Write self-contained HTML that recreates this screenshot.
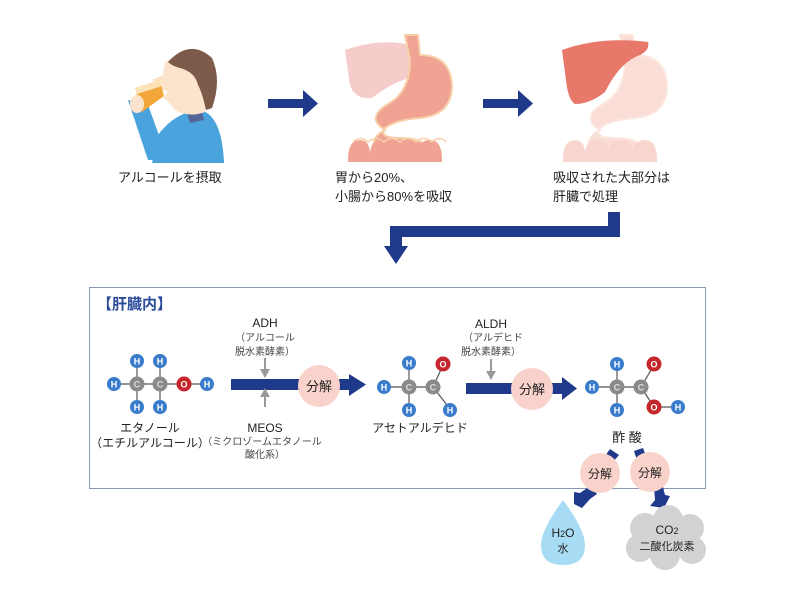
<!DOCTYPE html>
<html><head><meta charset="utf-8"><style>
html,body{margin:0;padding:0;background:#fff;}
svg{display:block;}
text{font-family:"Liberation Sans","Noto Sans CJK JP",sans-serif;fill:#222;}
</style></head><body>
<svg width="800" height="600" viewBox="0 0 800 600" xmlns="http://www.w3.org/2000/svg">
<defs>
<g id="H"><circle r="7" fill="#3a7ccc"/><text y="3.5" text-anchor="middle" font-size="9" font-weight="bold" style="fill:#fff">H</text></g>
<g id="C"><circle r="7.5" fill="#8a8a8a"/><text y="3.5" text-anchor="middle" font-size="9" font-weight="bold" style="fill:#ddd">C</text></g>
<g id="O"><circle r="7.5" fill="#c4262c"/><text y="3.5" text-anchor="middle" font-size="9" font-weight="bold" style="fill:#fff">O</text></g>
<g id="coils">
<path d="M0 60 Q0 40 12 40 Q22 40 22 55 Q22 40 34 40 Q46 40 46 55 Q46 40 58 40 Q70 40 70 55 Q70 40 82 40 Q94 40 94 60 L94 62 H0 Z" fill="currentColor"/>
</g>
</defs>

<!-- person -->
<g>
<path d="M158 135 Q175 112 200 110 Q222 115 224 163 L152 163 Z" fill="#4aa3dc"/>
<path d="M128 100 L148 160 L168 160 L148 105 Z" fill="#4aa3dc"/>
<path d="M186 110 L201 106 L204 120 L190 123 Z" fill="#56689a"/>
<path d="M165 62 Q185 50 205 65 Q212 90 205 112 Q190 118 175 110 Q168 100 163 98 L168 92 L160 88 L152 80 L163 75 Z" fill="#fbe3cc"/>
<path d="M168 62 Q190 38 212 58 Q222 80 212 108 L206 110 Q202 92 198 85 Q195 72 180 68 Q172 66 168 62 Z" fill="#7d5a4a"/>
<path d="M135 88 L160 80 L164 96 L142 112 Z" fill="#f3a63a"/>
<path d="M135 88 L160 80 L162 86 L137 94 Z" fill="#fff3d8" opacity="0.8"/>
<ellipse cx="137" cy="104" rx="7" ry="9" fill="#fbe3cc"/>
</g>

<!-- arrows top -->
<path d="M268 99 H303 V90 L318 103.5 L303 117 V108 H268 Z" fill="#1f3a8a"/>
<path d="M483 99 H518 V90 L533 103.5 L518 117 V108 H483 Z" fill="#1f3a8a"/>

<!-- organs 1 -->
<g>
<path d="M345 50 Q380 38 410 45 L420 75 Q395 80 372 98 Q355 100 350 85 Z" fill="#f6cccb"/>
<path d="M405 35 H418 L420 55 Q450 55 452 85 Q452 115 420 118 Q395 120 385 128 Q378 138 400 138 Q425 138 428 150 Q430 160 420 160 L380 160 Q365 140 385 130 Q365 118 388 104 Q410 92 410 60 Z" fill="#f0a293" stroke="#f8d0a8" stroke-width="2"/>
<g color="#f0a293" transform="translate(348,100)"><use href="#coils"/></g>
<path d="M353 142 Q360 135 368 142 Q376 135 384 142 Q392 135 400 142 Q408 135 416 142 Q424 135 432 142 Q440 135 446 142" fill="none" stroke="#f8d0a8" stroke-width="1.5"/>
</g>
<!-- organs 2 -->
<g>
<path d="M620 35 H633 L635 55 Q665 55 667 85 Q667 115 635 118 Q610 120 600 128 Q593 138 615 138 Q640 138 643 150 Q645 160 635 160 L595 160 Q580 140 600 130 Q580 118 603 104 Q625 92 625 60 Z" fill="#f9ddd6" stroke="#fbe7dd" stroke-width="2"/>
<g color="#f8d5cf" transform="translate(563,100)"><use href="#coils"/></g>
<path d="M562 50 Q600 36 648 42 Q650 50 640 55 Q620 62 605 92 Q590 104 575 104 Q568 100 566 80 Z" fill="#e8796a"/>
</g>

<!-- top labels -->
<g font-size="13">
<text x="118" y="182">アルコールを摂取</text>
<text x="335" y="182">胃から20%、</text>
<text x="335" y="201">小腸から80%を吸収</text>
<text x="553" y="182">吸収された大部分は</text>
<text x="553" y="201">肝臓で処理</text>
</g>

<!-- elbow arrow -->
<path d="M608 212 H620 V237 H402 V246 H408 L396 264 L384 246 H390 V226 H608 Z" fill="#1f3a8a"/>

<!-- box -->
<rect x="89.5" y="287.5" width="616" height="201" fill="none" stroke="#8a96b8" stroke-width="1"/>
<text x="97" y="309" font-size="15" font-weight="bold" style="fill:#2a4a9a">【肝臓内】</text>

<!-- ethanol -->
<g stroke="#555" stroke-width="1.2">
<line x1="114" y1="384" x2="207" y2="384"/>
<line x1="137" y1="361" x2="137" y2="407"/>
<line x1="160" y1="361" x2="160" y2="407"/>
</g>
<use href="#H" x="114" y="384"/><use href="#C" x="137" y="384"/><use href="#C" x="160" y="384"/>
<use href="#O" x="184" y="384"/><use href="#H" x="207" y="384"/>
<use href="#H" x="137" y="361"/><use href="#H" x="160" y="361"/>
<use href="#H" x="137" y="407"/><use href="#H" x="160" y="407"/>
<text x="150" y="432" font-size="12" text-anchor="middle">エタノール</text>
<text x="150" y="447" font-size="12" text-anchor="middle">（エチルアルコール）</text>

<!-- arrow 1 -->
<rect x="231" y="379" width="120" height="11" fill="#1f3a8a"/>
<path d="M349 374 L366 384.5 L349 396 Z" fill="#1f3a8a"/>
<circle cx="319" cy="386" r="21" fill="#f9d3cb"/>
<text x="319" y="391" font-size="13" text-anchor="middle">分解</text>
<text x="265" y="327" font-size="12" text-anchor="middle">ADH</text>
<text x="265" y="341" font-size="10" text-anchor="middle" style="fill:#444">（アルコール</text>
<text x="265" y="355" font-size="10" text-anchor="middle" style="fill:#444">脱水素酵素）</text>
<line x1="265" y1="358" x2="265" y2="370" stroke="#999" stroke-width="2"/>
<path d="M260 369 L265 378 L270 369 Z" fill="#999"/>
<line x1="265" y1="407" x2="265" y2="395" stroke="#999" stroke-width="2"/>
<path d="M260 397 L265 388 L270 397 Z" fill="#999"/>
<text x="265" y="432" font-size="12" text-anchor="middle">MEOS</text>
<text x="262" y="445" font-size="10" text-anchor="middle" style="fill:#444">（ミクロゾームエタノール</text>
<text x="265" y="458" font-size="10" text-anchor="middle" style="fill:#444">酸化系）</text>

<!-- acetaldehyde -->
<g stroke="#555" stroke-width="1.2">
<line x1="384" y1="387" x2="433" y2="387"/>
<line x1="409" y1="363" x2="409" y2="410"/>
<line x1="433" y1="387" x2="443" y2="365"/>
<line x1="433" y1="387" x2="450" y2="409"/>
</g>
<use href="#H" x="384" y="387"/><use href="#C" x="409" y="387"/><use href="#C" x="433" y="387"/>
<use href="#H" x="409" y="363"/><use href="#H" x="409" y="410"/>
<use href="#O" x="443" y="364"/><use href="#H" x="450" y="410"/>
<text x="420" y="432" font-size="12" text-anchor="middle">アセトアルデヒド</text>

<!-- arrow 2 -->
<rect x="466" y="383" width="100" height="11" fill="#1f3a8a"/>
<path d="M562 377 L577 388.5 L562 400 Z" fill="#1f3a8a"/>
<circle cx="532" cy="389" r="21" fill="#f9d3cb"/>
<text x="532" y="394" font-size="13" text-anchor="middle">分解</text>
<text x="491" y="328" font-size="12" text-anchor="middle">ALDH</text>
<text x="493" y="341" font-size="10" text-anchor="middle" style="fill:#444">（アルデヒド</text>
<text x="491" y="355" font-size="10" text-anchor="middle" style="fill:#444">脱水素酵素）</text>
<line x1="491" y1="359" x2="491" y2="372" stroke="#999" stroke-width="2"/>
<path d="M486 371 L491 380 L496 371 Z" fill="#999"/>

<!-- acetic acid -->
<g stroke="#555" stroke-width="1.2">
<line x1="592" y1="387" x2="641" y2="387"/>
<line x1="617" y1="364" x2="617" y2="410"/>
<line x1="641" y1="387" x2="654" y2="365"/>
<line x1="641" y1="387" x2="654" y2="407"/>
<line x1="654" y1="407" x2="678" y2="407"/>
</g>
<use href="#H" x="592" y="387"/><use href="#C" x="617" y="387"/><use href="#C" x="641" y="387"/>
<use href="#H" x="617" y="364"/><use href="#H" x="617" y="410"/>
<use href="#O" x="654" y="364"/><use href="#O" x="654" y="407"/><use href="#H" x="678" y="407"/>
<text x="627" y="442" font-size="13" text-anchor="middle">酢 酸</text>

<!-- decomposition -->
<path d="M610 449 L619 455 L613 462 L605 456 Z" fill="#1f3a8a"/>
<path d="M634 451 L643 448 L646 456 L637 460 Z" fill="#1f3a8a"/>
<path d="M590 486 L597 494 L590 499 L582 508 L574 504 L574 492 L580 493 Z" fill="#1f3a8a"/>
<path d="M654 487 L662 483 L665 495 L670 496 L664 508 L650 506 L655 500 Z" fill="#1f3a8a"/>
<circle cx="600" cy="473" r="20" fill="#f9d3cb"/>
<text x="600" y="478" font-size="12" text-anchor="middle">分解</text>
<circle cx="650" cy="472" r="20" fill="#f9d3cb"/>
<text x="650" y="477" font-size="12" text-anchor="middle">分解</text>

<!-- water drop -->
<path d="M563 500 Q585 530 585 545 Q585 565 563 565 Q541 565 541 545 Q541 530 563 500 Z" fill="#a8dcf4"/>
<text x="563" y="537" font-size="12" text-anchor="middle">H<tspan font-size="9">2</tspan>O</text>
<text x="563" y="552" font-size="11" text-anchor="middle">水</text>

<!-- cloud -->
<g fill="#d2d2d2">
<circle cx="645" cy="528" r="15"/><circle cx="668" cy="520" r="15"/><circle cx="690" cy="528" r="14"/>
<circle cx="640" cy="548" r="14"/><circle cx="665" cy="555" r="15"/><circle cx="692" cy="550" r="14"/>
<rect x="635" y="525" width="65" height="32"/>
</g>
<text x="667" y="534" font-size="12" text-anchor="middle">CO<tspan font-size="9">2</tspan></text>
<text x="667" y="550" font-size="11" text-anchor="middle">二酸化炭素</text>
</svg>
</body></html>
